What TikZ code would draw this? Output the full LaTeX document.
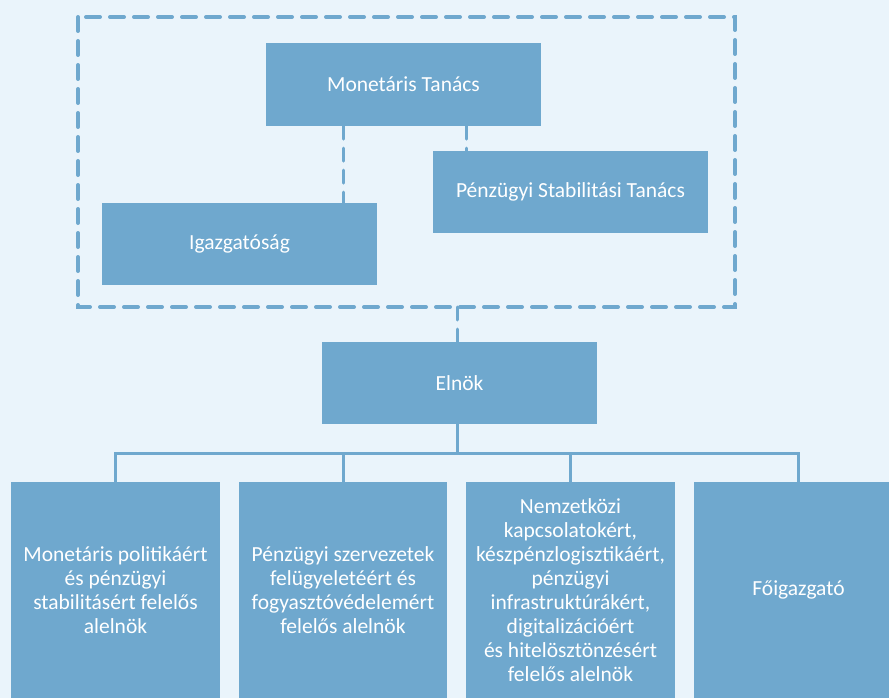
\documentclass[tikz,border=0pt]{standalone}
\usepackage{fontspec}
\setmainfont{Carlito}
\definecolor{bgc}{RGB}{234,244,251}
\definecolor{boxc}{RGB}{111,168,206}
\begin{document}
\begin{tikzpicture}[x=1pt,y=-1pt,
  box/.style={fill=boxc,draw=none,text=white,align=center,inner sep=0pt,
    font=\fontsize{21.5}{24}\selectfont},
  frame/.style={draw=boxc,line width=4pt,line cap=round,dash pattern=on 14pt off 10pt},
  dline/.style={draw=boxc,line width=3pt,line cap=round,dash pattern=on 13pt off 9pt},
  sline/.style={draw=boxc,line width=3pt}]
\useasboundingbox (0,0) rectangle (889,698);
\clip (0,0) rectangle (889,698);
\fill[bgc] (0,0) rectangle (889,698);
% dashed frame
\draw[frame] (78,17) rectangle (735,307);
\coordinate (fb) at (457,307);
% top boxes
\node[box,minimum width=275pt,minimum height=83pt] (mt) at (403.5,84.5) {Monetáris Tanács};
\node[box,minimum width=275pt,minimum height=82pt] (pst) at (570.5,192) {Pénzügyi Stabilitási Tanács};
\node[box,minimum width=275pt,minimum height=82pt] (ig) at (239.5,244) {Igazgatóság};
\draw[dline] (mt.south -| 343,0) -- (ig.north -| 343,0);
\draw[dline] (mt.south -| 466,0) -- (pst.north -| 466,0);
% Elnok
\node[box,minimum width=275pt,minimum height=82pt] (el) at (459.5,383) {Elnök};
\draw[dline] (fb) -- (el.north -| fb);
% bottom boxes
\node[box,minimum width=209pt,minimum height=216pt] (b1) at (115.5,590) {Monetáris politikáért\\és pénzügyi\\stabilitásért felelős\\alelnök};
\node[box,minimum width=208pt,minimum height=216pt] (b2) at (343,590) {Pénzügyi szervezetek\\felügyeletéért és\\fogyasztóvédelemért\\felelős alelnök};
\node[box,minimum width=209pt,minimum height=216pt] (b3) at (570.5,590) {Nemzetközi\\kapcsolatokért,\\készpénzlogisztikáért,\\pénzügyi\\infrastruktúrákért,\\digitalizációért\\és hitelösztönzésért\\felelős alelnök};
\node[box,minimum width=209pt,minimum height=216pt] (b4) at (798.5,590) {Főigazgató};
% bus
\coordinate (bus) at (457,453);
\draw[sline] (el.south -| bus) -- (bus);
\draw[sline] (b1.north) -- (b1.north |- bus) -- (b4.north |- bus) -- (b4.north);
\draw[sline] (b2.north) -- (b2.north |- bus);
\draw[sline] (b3.north) -- (b3.north |- bus);
\end{tikzpicture}
\end{document}
